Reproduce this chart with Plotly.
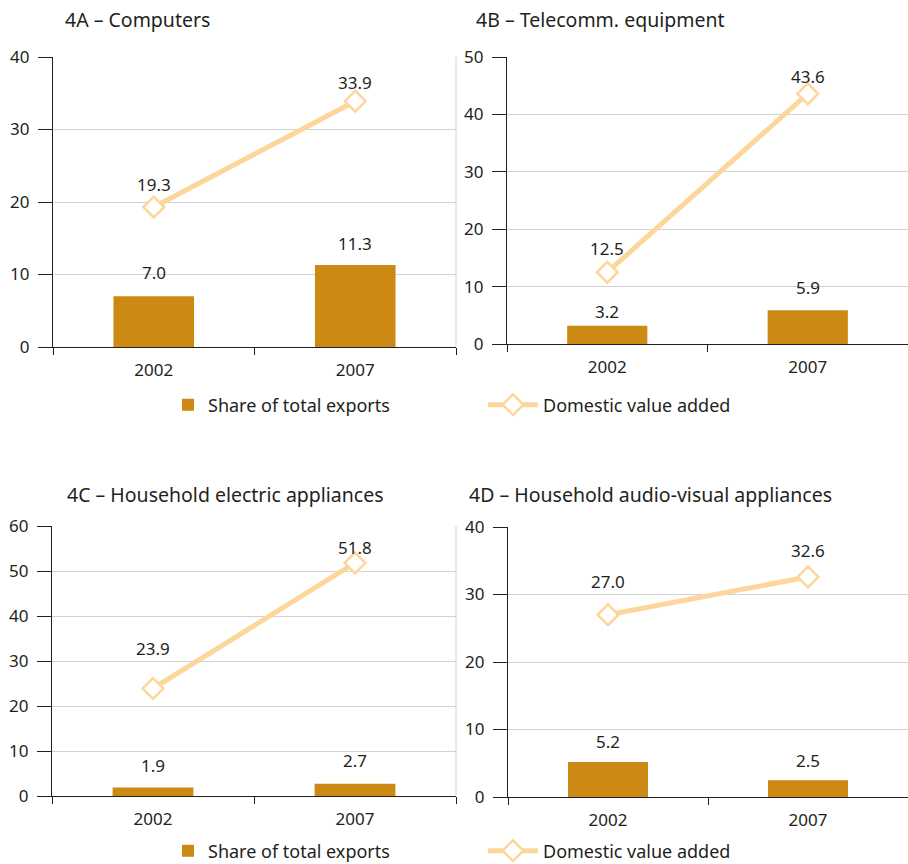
import plotly.graph_objects as go

# ---- data ----
years = ["2002", "2007"]
titles = ["4A – Computers", "4B – Telecomm. equipment",
          "4C – Household electric appliances", "4D – Household audio-visual appliances"]
share_exports_A = [7.0, 11.3]
domestic_va_A = [19.3, 33.9]
share_exports_B = [3.2, 5.9]
domestic_va_B = [12.5, 43.6]
share_exports_C = [1.9, 2.7]
domestic_va_C = [23.9, 51.8]
share_exports_D = [5.2, 2.5]
domestic_va_D = [27.0, 32.6]
y_max = [40, 50, 60, 40]
series_names = ["Share of total exports", "Domestic value added"]

shares = [share_exports_A, share_exports_B, share_exports_C, share_exports_D]
dvas = [domestic_va_A, domestic_va_B, domestic_va_C, domestic_va_D]

# ---- style ----
W, H = 908, 864
BAR = "#CC8913"
LINE = "#FDD69B"
TXT = "#231F20"
GRID = "#D2D2D2"
FONT = "Noto Sans"
FS = 17

# pixel layout: (x_left, x_right, y_top, y_bottom)
boxes = [(53, 456, 57, 347), (507, 908, 57, 344), (52, 456, 526, 796), (508, 908, 527, 797)]
title_pos = [(63, 20), (474, 20), (65, 495), (467, 495)]
bar_label_shift = [[24, 22], [14, 23], [22, 23], [20, 20]]
line_label_shift = [[23, 19], [24, 17], [40, 15], [33, 26]]
# panel index -> (legend for bars, legend for lines)
legend_targets = {0: ("legend", "legend2"), 2: ("legend3", "legend4")}

fig = go.Figure()
annotations = []
shapes = []

for i in range(4):
    sfx = "" if i == 0 else str(i + 1)
    xa, ya = "x" + sfx, "y" + sfx
    x0, x1, yt, yb = boxes[i]
    show = i in legend_targets
    lg_bar, lg_line = legend_targets.get(i, ("legend", "legend2"))
    fig.add_trace(go.Bar(x=years, y=shares[i], name=series_names[0], marker_color=BAR,
                         marker_line_width=0, width=0.4, xaxis=xa, yaxis=ya,
                         showlegend=show, legend=lg_bar))
    fig.add_trace(go.Scatter(x=years, y=dvas[i], name=series_names[1], mode="lines+markers",
                             line=dict(color=LINE, width=5),
                             marker=dict(symbol="diamond", size=16, color="white",
                                         line=dict(color=LINE, width=2.5)),
                             xaxis=xa, yaxis=ya, showlegend=show, legend=lg_line))
    fig.layout["xaxis" + sfx] = dict(
        domain=[x0 / W, x1 / W], anchor=ya, type="category", range=[-0.5, 1.5],
        tickson="boundaries", ticks="outside", ticklen=7, tickcolor=TXT, tickwidth=1,
        ticklabelstandoff=7,
        showline=True, linecolor=TXT, linewidth=1.2, showgrid=False, automargin=False,
        tickfont=dict(family=FONT, size=FS, color=TXT))
    fig.layout["yaxis" + sfx] = dict(
        domain=[1 - yb / H, 1 - yt / H], anchor=xa, range=[0, y_max[i]], dtick=10,
        ticks="outside", ticklen=14, tickcolor=TXT, tickwidth=1, ticklabelstandoff=5,
        showline=True, linecolor=TXT, linewidth=1.2, showgrid=True, gridcolor=GRID,
        gridwidth=1, zeroline=False, automargin=False,
        tickfont=dict(family=FONT, size=FS, color=TXT))
    if x1 < W:
        shapes.append(dict(type="line", xref=xa + " domain", yref=ya + " domain",
                           x0=1, x1=1, y0=0, y1=1, line=dict(color=GRID, width=1)))
    for j in range(len(years)):
        annotations.append(dict(x=j, y=shares[i][j], xref=xa, yref=ya, text=f"{shares[i][j]:.1f}",
                                showarrow=False, yshift=bar_label_shift[i][j],
                                font=dict(family=FONT, size=FS, color=TXT)))
        annotations.append(dict(x=j, y=dvas[i][j], xref=xa, yref=ya, text=f"{dvas[i][j]:.1f}",
                                showarrow=False, yshift=line_label_shift[i][j],
                                font=dict(family=FONT, size=FS, color=TXT)))
    tx, ty = title_pos[i]
    annotations.append(dict(x=tx / W, y=1 - ty / H, xref="paper", yref="paper", text=titles[i],
                            showarrow=False, xanchor="left", yanchor="middle",
                            font=dict(family=FONT, size=19.5, color=TXT)))

legend_common = dict(orientation="h", xanchor="left", yanchor="middle",
                     bgcolor="rgba(0,0,0,0)", xref="container", yref="container",
                     font=dict(family=FONT, size=18, color=TXT))
row_y = [405, 851]
fig.update_layout(
    width=W, height=H, margin=dict(l=0, r=0, t=0, b=0, autoexpand=False),
    paper_bgcolor="white", plot_bgcolor="white",
    annotations=annotations, shapes=shapes, bargap=0.6,
    legend=dict(x=168 / W, y=1 - row_y[0] / H, itemwidth=30, **legend_common),
    legend2=dict(x=483 / W, y=1 - row_y[0] / H, itemwidth=50, **legend_common),
    legend3=dict(x=168 / W, y=1 - row_y[1] / H, itemwidth=30, **legend_common),
    legend4=dict(x=483 / W, y=1 - row_y[1] / H, itemwidth=50, **legend_common),
)

fig.write_html("out.html")
